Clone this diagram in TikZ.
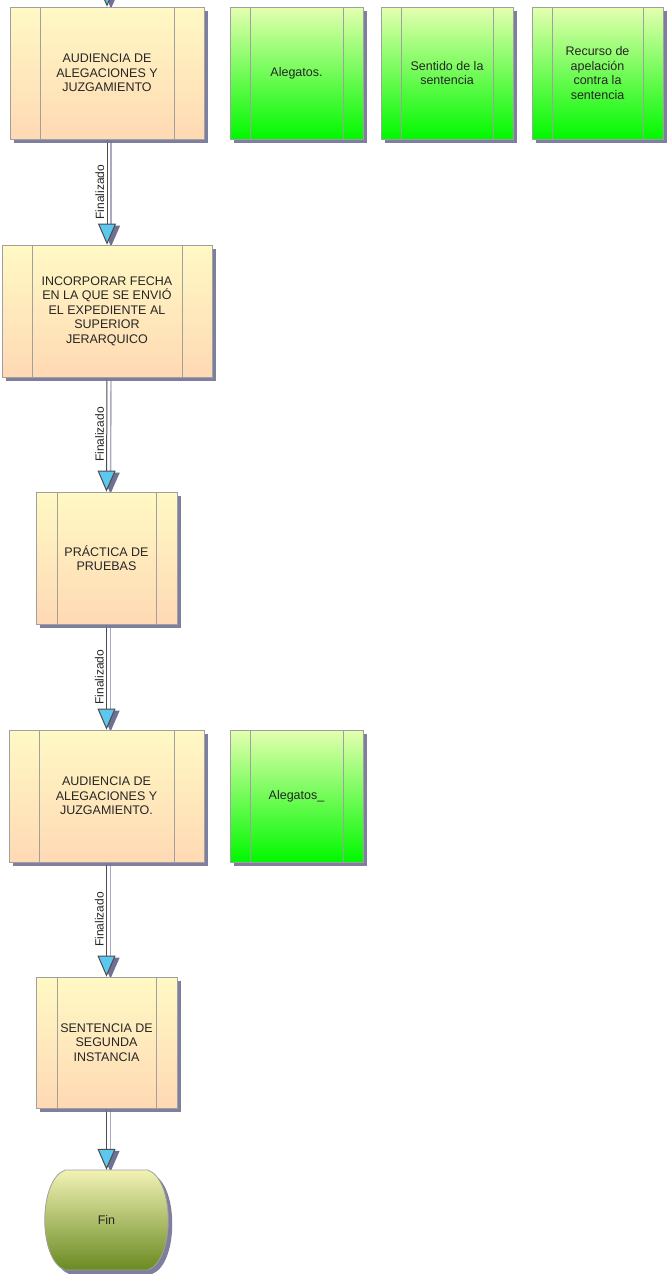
\documentclass[tikz,border=0pt]{standalone}
\usepackage{fontspec}
\setmainfont{Liberation Sans}
\usetikzlibrary{shadows,arrows.meta,backgrounds}
\definecolor{boxtop}{HTML}{FFF9C4}
\definecolor{boxbot}{HTML}{FFD9B4}
\definecolor{grtop}{HTML}{E4FFB0}
\definecolor{grbot}{HTML}{00F800}
\definecolor{shadowc}{HTML}{707094}
\definecolor{edgec}{HTML}{A0A0A0}
\definecolor{arrfill}{HTML}{5CC8F0}
\definecolor{fintop}{HTML}{F2F2B4}
\definecolor{finbot}{HTML}{6A8A22}
\tikzset{
  base/.style={draw=edgec, line width=0.8pt, text=black!85, align=center,
    font=\fontsize{12.5}{14.5}\selectfont, inner sep=0pt,
    drop shadow={shadow xshift=4pt, shadow yshift=-4pt, fill=shadowc, opacity=0.9}},
  stripes/.style={path picture={
    \draw[edgec, line width=0.8pt] ([xshift=#1]path picture bounding box.north west) -- ([xshift=#1]path picture bounding box.south west);
    \draw[edgec, line width=0.8pt] ([xshift=-#1]path picture bounding box.north east) -- ([xshift=-#1]path picture bounding box.south east);}},
  proc/.style={base, top color=boxtop, bottom color=boxbot},
  act/.style={base, top color=grtop, bottom color=grbot, minimum width=132pt, minimum height=132pt, stripes=20pt},
  conn/.style={draw=gray!60!black, line width=1pt, -{Triangle[length=21pt,width=18pt,fill=arrfill]}},
  connsh/.style={draw=shadowc!60, line width=1.4pt, -{Triangle[length=21pt,width=18pt,fill=shadowc,color=shadowc]}},
  lbl/.style={rotate=90, anchor=south, inner sep=2.5pt, font=\fontsize{12}{14}\selectfont, text=black!85}
}
\begin{document}
\begin{tikzpicture}[x=1pt,y=-1pt]
\path[use as bounding box, clip] (0,0) rectangle (668,1274);
% process boxes
\node[proc, minimum width=194pt, minimum height=132pt, stripes=30pt] (b1) at (107,73) {AUDIENCIA DE\\ALEGACIONES Y\\JUZGAMIENTO};
\node[proc, minimum width=210pt, minimum height=132pt, stripes=30pt] (b2) at (107,311) {INCORPORAR FECHA\\EN LA QUE SE ENVIÓ\\EL EXPEDIENTE AL\\SUPERIOR\\JERARQUICO};
\node[proc, minimum width=141pt, minimum height=132pt, stripes=21pt] (b3) at (106.5,558) {PRÁCTICA DE\\PRUEBAS};
\node[proc, minimum width=195pt, minimum height=132pt, stripes=30pt] (b4) at (106.5,796) {AUDIENCIA DE\\ALEGACIONES Y\\JUZGAMIENTO.};
\node[proc, minimum width=141pt, minimum height=131pt, stripes=21pt] (b5) at (106.5,1042.5) {SENTENCIA DE\\SEGUNDA\\INSTANCIA};
% activity boxes
\node[act, minimum width=133pt] (g1) at (296.5,73) {Alegatos.};
\node[act] (g2) at (447,73) {Sentido de la\\sentencia};
\node[act, minimum width=131pt] (g3) at (597.5,73) {Recurso de\\apelación\\contra la\\sentencia};
\node[act, minimum width=133pt] (g4) at (296.5,796) {Alegatos\_};
% end terminator
\begin{scope}[shift={(4,4)}]
\path[fill=shadowc, opacity=0.9] (65,1170) -- (148,1170) .. controls (175,1180) and (175,1260) .. (148,1270) -- (65,1270) .. controls (38,1260) and (38,1180) .. (65,1170) -- cycle;
\end{scope}
\path[draw=edgec, line width=0.8pt, top color=fintop, bottom color=finbot] (65,1170) -- (148,1170) .. controls (175,1180) and (175,1260) .. (148,1270) -- (65,1270) .. controls (38,1260) and (38,1180) .. (65,1170) -- cycle;
\node[minimum width=123pt, minimum height=100pt, inner sep=0pt, font=\fontsize{12.5}{14.5}\selectfont, text=black!85] (fin) at (106.5,1220) {Fin};
\coordinate (start) at (107,-40);
% connectors
\begin{scope}[on background layer]
\foreach \a/\b in {start/b1, b1/b2, b2/b3, b3/b4, b4/b5, b5/fin}{
  \draw[connsh, transform canvas={xshift=4pt, yshift=-2pt}] (\a.south) -- (\b.north);
  \draw[conn] (\a.south) -- (\b.north);
}
\end{scope}
\foreach \a/\b in {b1/b2, b2/b3, b3/b4, b4/b5}{
  \path (\a.south) -- (\b.north) node[midway, lbl] {Finalizado};
}
\end{tikzpicture}
\end{document}
